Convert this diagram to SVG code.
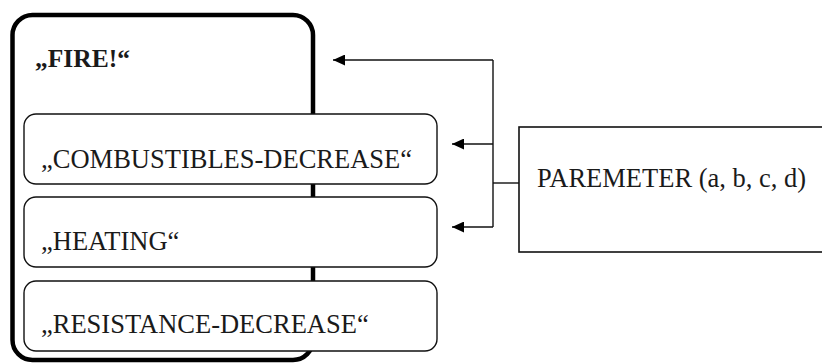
<svg xmlns="http://www.w3.org/2000/svg" width="822" height="363" viewBox="0 0 822 363">
  <style>
    .frame { fill: none; stroke: #000; stroke-width: 4.5; }
    .box { fill: #fff; stroke: #111; stroke-width: 1.4; }
    .param { fill: #fff; stroke: #111; stroke-width: 1.6; }
    .label { font-size: 26.5px; fill: #1a1a1a; }
    .title { font-weight: bold; font-size: 25.5px; }
    .wire { fill: none; stroke: #111; stroke-width: 1.4; }
  </style>
  <defs>
    <marker id="arrow" markerWidth="12" markerHeight="11" refX="12" refY="5.5" orient="auto" markerUnits="userSpaceOnUse">
      <path d="M0,0 L12,5.5 L0,11 Z" fill="#000"/>
    </marker>
  </defs>
  <rect width="822" height="363" fill="#fff"/>

  <g font-family="'Liberation Serif', 'DejaVu Serif', serif">
    <g id="fire">
      <rect class="frame" x="12.5" y="15" width="300.5" height="345" rx="20" ry="20"/>
      <text class="label title" x="35" y="67">„FIRE!“</text>
    </g>

    <g id="combustibles-decrease">
      <rect class="box" x="24" y="114" width="413" height="70" rx="12" ry="12"/>
      <text class="label" x="41" y="168">„COMBUSTIBLES-DECREASE“</text>
    </g>

    <g id="heating">
      <rect class="box" x="24" y="197" width="413" height="70" rx="12" ry="12"/>
      <text class="label" x="41" y="250">„HEATING“</text>
    </g>

    <g id="resistance-decrease">
      <rect class="box" x="24" y="281" width="413" height="70" rx="12" ry="12"/>
      <text class="label" x="41" y="333">„RESISTANCE-DECREASE“</text>
    </g>

    <g id="parameter">
      <rect class="param" x="519" y="127" width="330" height="125"/>
      <text class="label" x="537" y="187">PAREMETER (a, b, c, d)</text>
    </g>
  </g>

  <g id="connectors">
    <path class="wire" d="M519,183 H493"/>
    <path class="wire" d="M493,60 V227"/>
    <path class="wire" d="M493,60 H333" marker-end="url(#arrow)"/>
    <path class="wire" d="M493,144 H452" marker-end="url(#arrow)"/>
    <path class="wire" d="M493,227 H452" marker-end="url(#arrow)"/>
  </g>
</svg>
